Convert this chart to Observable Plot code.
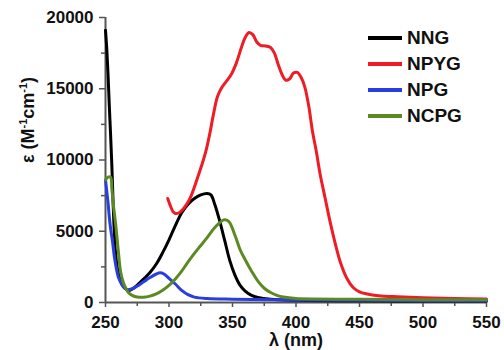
<!DOCTYPE html>
<html>
<head>
<meta charset="utf-8">
<script src="https://cdn.jsdelivr.net/npm/d3@7"></script>
<script src="https://cdn.jsdelivr.net/npm/@observablehq/plot@0.6"></script>
<style>
  body { margin: 0; background: #fff; }
  #chart { position: relative; width: 504px; height: 350px; font-family: "Liberation Sans", Arial, sans-serif; font-weight: bold; }
  #legend { position: absolute; left: 368px; top: 25px; }
  .item { display: flex; align-items: center; height: 26px; font-size: 19px; color: #111; }
  .swatch { width: 34px; height: 3.5px; margin-right: 5px; }
</style>
</head>
<body>
<div id="chart"><div id="legend"></div></div>
<script>
// Absorption spectra: [wavelength (nm), molar absorptivity ε (M⁻¹cm⁻¹)]
const seriesNames = ["NNG", "NPYG", "NPG", "NCPG"];
const seriesColors = ["#000000", "#ee1c25", "#2a3ee0", "#5b8a23"];

const NNG = [[250,19100],[251,17800],[252,16000],[253,13800],[254,11800],[255,9600],[256,7000],[257,4800],[258,3400],[260,2100],[263,1300],[266,950],[269,850],[272,1000],[276,1300],[280,1650],[285,2100],[290,2700],[295,3500],[300,4400],[305,5400],[310,6300],[315,6900],[320,7300],[325,7550],[330,7650],[333,7550],[336,6900],[340,5700],[344,4300],[348,2900],[352,1900],[356,1200],[360,800],[365,500],[370,350],[380,220],[400,150],[450,120],[500,100],[550,100]];

const NPYG = [[299,7300],[301,6800],[303,6400],[305,6250],[308,6300],[311,6550],[314,6900],[317,7400],[320,8100],[323,8900],[326,9700],[329,10600],[332,11800],[335,13200],[338,14400],[341,15000],[345,15500],[349,16000],[353,16800],[357,17900],[360,18600],[363,18950],[366,18800],[369,18300],[372,18050],[376,18000],[380,17900],[383,17500],[386,16700],[389,16000],[392,15600],[395,15700],[398,16100],[401,16150],[404,15800],[407,15100],[410,13800],[413,12000],[416,10600],[419,9000],[423,7300],[427,5600],[431,4100],[435,2800],[440,1700],[445,1050],[450,750],[456,600],[465,480],[480,400],[500,330],[525,280],[550,250]];

const NPG = [[250,8600],[251,7800],[252,7000],[253,6000],[254,5200],[255.5,4300],[257,3200],[258.5,2400],[260,1800],[262,1400],[264,1100],[266,950],[268,900],[272,1000],[276,1200],[280,1450],[285,1750],[290,2000],[293,2080],[296,2000],[300,1700],[305,1300],[310,850],[315,550],[320,380],[330,280],[350,230],[400,180],[450,150],[500,130],[550,120]];

const NCPG = [[250,8600],[252,8800],[254,8800],[255,8000],[256,7000],[258,5500],[260,3700],[262,2100],[264,1400],[266,1000],[268,700],[271,500],[275,380],[280,370],[285,450],[290,600],[295,860],[300,1200],[305,1650],[310,2200],[315,2850],[320,3450],[325,4000],[330,4550],[335,5150],[340,5600],[343,5800],[347,5700],[352,4700],[356,3700],[360,3000],[365,2200],[370,1500],[375,1000],[380,700],[385,500],[390,380],[400,280],[450,230],[500,200],[550,200]];

const xMajorTicks = [250, 300, 350, 400, 450, 500, 550];
const xMinorTicks = [275, 325, 375, 425, 475, 525];
const yMajorTicks = [0, 5000, 10000, 15000, 20000];
const yMinorTicks = [2500, 7500, 12500, 17500];

const xTitle = "λ (nm)";
const yTitle = "ε (M⁻¹cm⁻¹)";

const spectra = [NNG, NPYG, NPG, NCPG];
const rows = spectra.flatMap((s, i) => s.map(([wl, eps]) => ({name: seriesNames[i], wl, eps})));

const axisColor = "#555";
const font = "Liberation Sans, Arial, sans-serif";

const plot = Plot.plot({
  width: 504,
  height: 350,
  marginLeft: 105,
  marginRight: 18,
  marginTop: 17,
  marginBottom: 48,
  style: {fontFamily: font, fontSize: "17px", fontWeight: "bold", color: "#111", background: "transparent"},
  x: {domain: [250, 550]},
  y: {domain: [0, 20000]},
  color: {domain: seriesNames, range: seriesColors},
  marks: [
    Plot.axisX({ticks: xMinorTicks, tickSize: 4, text: null, stroke: axisColor, strokeWidth: 1.5, label: null}),
    Plot.axisX({ticks: xMajorTicks, tickSize: 5, tickPadding: 8, tickFormat: d => String(d), stroke: axisColor, strokeWidth: 1.5, label: null}),
    Plot.axisY({ticks: yMinorTicks, tickSize: 4, text: null, stroke: axisColor, strokeWidth: 1.5, label: null}),
    Plot.axisY({ticks: yMajorTicks, tickSize: 6, tickPadding: 6, tickFormat: d => String(d), stroke: axisColor, strokeWidth: 1.5, label: null}),
    Plot.text([xTitle], {text: d => d, frameAnchor: "bottom", lineAnchor: "middle", dy: 38, fontSize: 18, fill: "#111"}),
    Plot.text([yTitle], {text: d => d, frameAnchor: "left", lineAnchor: "middle", dx: -77, dy: 3, rotate: -90, fontSize: 18, fill: "#111", className: "ytitle"}),
    Plot.ruleX([250], {stroke: axisColor, strokeWidth: 2}),
    Plot.ruleY([0], {stroke: axisColor, strokeWidth: 2}),
    Plot.line(rows, {x: "wl", y: "eps", z: "name", stroke: "name", strokeWidth: 3, curve: "catmull-rom"})
  ]
});

// Typeset the unit exponents as raised superscripts.
const yText = plot.querySelector(".ytitle text");
if (yText) {
  yText.textContent = "";
  const parts = [["ε (M", 0], ["-1", 1], ["cm", 0], ["-1", 1], [")", 0]];
  let raised = false;
  for (const [str, sup] of parts) {
    const t = document.createElementNS("http://www.w3.org/2000/svg", "tspan");
    t.textContent = str;
    if (sup && !raised) { t.setAttribute("dy", "-7"); raised = true; }
    else if (!sup && raised) { t.setAttribute("dy", "7"); raised = false; }
    if (sup) t.setAttribute("font-size", "11");
    yText.append(t);
  }
}

const chart = document.getElementById("chart");
chart.insertBefore(plot, chart.firstChild);

const legend = document.getElementById("legend");
seriesNames.forEach((name, i) => {
  const item = document.createElement("div");
  item.className = "item";
  const sw = document.createElement("span");
  sw.className = "swatch";
  sw.style.background = seriesColors[i];
  const label = document.createElement("span");
  label.textContent = name;
  item.append(sw, label);
  legend.append(item);
});
</script>
</body>
</html>
